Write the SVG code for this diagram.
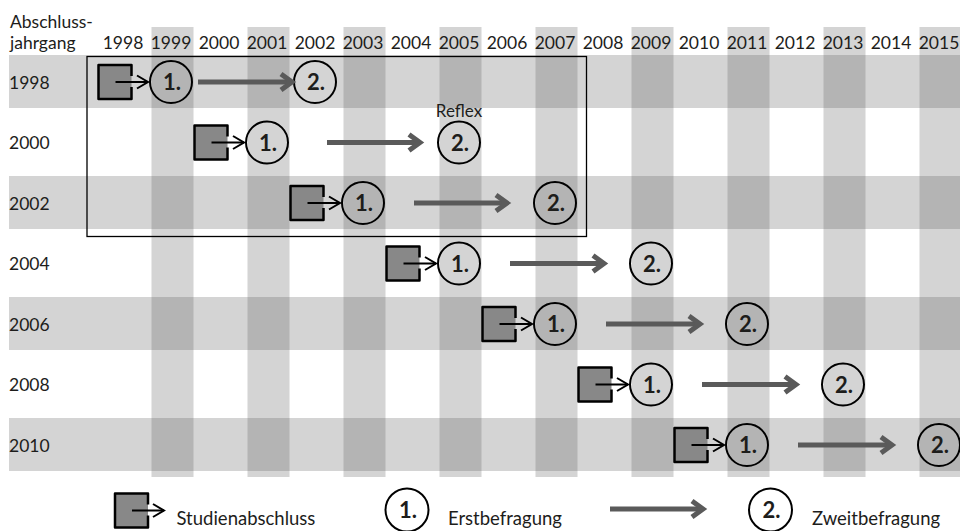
<svg xmlns="http://www.w3.org/2000/svg" xmlns:xlink="http://www.w3.org/1999/xlink" width="960" height="531" viewBox="0 0 960 531">
<style>
  text { font-family: Lato, "Open Sans", "Liberation Sans", sans-serif; fill: #1d1d1b; }
  .lbl { font-size: 17.5px; }
  .leg { font-size: 18.5px; }
  .yr { font-size: 17.5px; text-anchor: middle; }
  .num { font-size: 22px; font-weight: bold; text-anchor: middle; }
  .circ { fill: none; stroke: #000; stroke-width: 2; }
  .small { stroke: #000; stroke-width: 2; fill: none; }
  .big { stroke: #5a5a5a; stroke-width: 5; fill: none; }
  .boxfill { fill: #888888; }
  .boxedge { fill: none; stroke: #000; stroke-width: 2.5; stroke-linejoin: round; }
</style>
<defs>
  <g id="stripes">
    <rect x="151.5" y="27" width="42" height="450"/>
    <rect x="247.5" y="27" width="42" height="450"/>
    <rect x="343.5" y="27" width="42" height="450"/>
    <rect x="439.5" y="27" width="42" height="450"/>
    <rect x="535.5" y="27" width="42" height="450"/>
    <rect x="631.5" y="27" width="42" height="450"/>
    <rect x="727.5" y="27" width="42" height="450"/>
    <rect x="823.5" y="27" width="42" height="450"/>
    <rect x="919.5" y="27" width="42" height="450"/>
  </g>
  <clipPath id="bandclip">
    <rect x="9" y="55" width="951" height="53"/>
    <rect x="9" y="176" width="951" height="53"/>
    <rect x="9" y="297" width="951" height="53"/>
    <rect x="9" y="418" width="951" height="53"/>
  </clipPath>
  <g id="box">
    <rect class="boxfill" x="0" y="0" width="33" height="34"/>
    <path class="boxedge" d="M33,11 V0 H0 V34 H33 V22"/>
  </g>
  <marker id="hs" markerUnits="userSpaceOnUse" markerWidth="30" markerHeight="30" refX="0" refY="0" orient="auto" overflow="visible">
    <path d="M-11,-6.5 L0,0 L-11,6.5" fill="none" stroke="#000" stroke-width="2"/>
  </marker>
  <marker id="hb" markerUnits="userSpaceOnUse" markerWidth="40" markerHeight="40" refX="0" refY="0" orient="auto" overflow="visible">
    <path d="M-11,-8 L0,0 L-11,8" fill="none" stroke="#5a5a5a" stroke-width="5" stroke-linejoin="miter"/>
  </marker>
</defs>

<g id="background">
  <use xlink:href="#stripes" fill="#d4d4d4"/>
  <g fill="#d4d4d4">
    <rect x="9" y="55" width="951" height="53"/>
    <rect x="9" y="176" width="951" height="53"/>
    <rect x="9" y="297" width="951" height="53"/>
    <rect x="9" y="418" width="951" height="53"/>
  </g>
  <g clip-path="url(#bandclip)">
    <use xlink:href="#stripes" fill="#b4b4b4"/>
  </g>
</g>

<g id="header">
  <text class="lbl" x="10" y="28">Abschluss-</text>
  <text class="lbl" x="10" y="49">jahrgang</text>
  <text class="yr" x="123" y="49">1998</text>
  <text class="yr" x="171" y="49">1999</text>
  <text class="yr" x="219" y="49">2000</text>
  <text class="yr" x="267" y="49">2001</text>
  <text class="yr" x="315" y="49">2002</text>
  <text class="yr" x="363" y="49">2003</text>
  <text class="yr" x="411" y="49">2004</text>
  <text class="yr" x="459" y="49">2005</text>
  <text class="yr" x="507" y="49">2006</text>
  <text class="yr" x="555" y="49">2007</text>
  <text class="yr" x="603" y="49">2008</text>
  <text class="yr" x="651" y="49">2009</text>
  <text class="yr" x="699" y="49">2010</text>
  <text class="yr" x="747" y="49">2011</text>
  <text class="yr" x="795" y="49">2012</text>
  <text class="yr" x="843" y="49">2013</text>
  <text class="yr" x="891" y="49">2014</text>
  <text class="yr" x="939" y="49">2015</text>
</g>

<g id="row-labels">
  <text class="lbl" x="9" y="88.5">1998</text>
  <text class="lbl" x="9" y="149">2000</text>
  <text class="lbl" x="9" y="209.5">2002</text>
  <text class="lbl" x="9" y="270">2004</text>
  <text class="lbl" x="9" y="330.5">2006</text>
  <text class="lbl" x="9" y="391">2008</text>
  <text class="lbl" x="9" y="451.5">2010</text>
</g>

<g id="reflex-frame">
  <rect x="87" y="56.5" width="499.5" height="180" fill="none" stroke="#000" stroke-width="1.3"/>
  <text x="459" y="117" font-size="17" text-anchor="middle">Reflex</text>
</g>

<g id="start-1998"><use xlink:href="#box" x="98.5" y="65"/></g>
<g id="survey1-1998"><circle class="circ" cx="171" cy="82" r="21"/><text class="num" x="172" y="90">1.</text></g>
<g id="survey2-1998"><circle class="circ" cx="315" cy="82" r="21"/><text class="num" x="316" y="90">2.</text></g>

<g id="start-2000"><use xlink:href="#box" x="194.5" y="125.5"/></g>
<g id="survey1-2000"><circle class="circ" cx="267" cy="142.5" r="21"/><text class="num" x="268" y="150.5">1.</text></g>
<g id="survey2-2000"><circle class="circ" cx="459" cy="142.5" r="21"/><text class="num" x="460" y="150.5">2.</text></g>

<g id="start-2002"><use xlink:href="#box" x="290.5" y="186"/></g>
<g id="survey1-2002"><circle class="circ" cx="363" cy="203" r="21"/><text class="num" x="364" y="211">1.</text></g>
<g id="survey2-2002"><circle class="circ" cx="555" cy="203" r="21"/><text class="num" x="556" y="211">2.</text></g>

<g id="start-2004"><use xlink:href="#box" x="386.5" y="246.5"/></g>
<g id="survey1-2004"><circle class="circ" cx="459" cy="263.5" r="21"/><text class="num" x="460" y="271.5">1.</text></g>
<g id="survey2-2004"><circle class="circ" cx="651" cy="263.5" r="21"/><text class="num" x="652" y="271.5">2.</text></g>

<g id="start-2006"><use xlink:href="#box" x="482.5" y="307"/></g>
<g id="survey1-2006"><circle class="circ" cx="555" cy="324" r="21"/><text class="num" x="556" y="332">1.</text></g>
<g id="survey2-2006"><circle class="circ" cx="747" cy="324" r="21"/><text class="num" x="748" y="332">2.</text></g>

<g id="start-2008"><use xlink:href="#box" x="578.5" y="367.5"/></g>
<g id="survey1-2008"><circle class="circ" cx="651" cy="384.5" r="21"/><text class="num" x="652" y="392.5">1.</text></g>
<g id="survey2-2008"><circle class="circ" cx="843" cy="384.5" r="21"/><text class="num" x="844" y="392.5">2.</text></g>

<g id="start-2010"><use xlink:href="#box" x="674.5" y="428"/></g>
<g id="survey1-2010"><circle class="circ" cx="747" cy="445" r="21"/><text class="num" x="748" y="453">1.</text></g>
<g id="survey2-2010"><circle class="circ" cx="939" cy="445" r="21"/><text class="num" x="940" y="453">2.</text></g>

<g id="connectors">
  <line class="small" x1="115.5" y1="82" x2="148" y2="82" marker-end="url(#hs)"/>
  <line class="big" x1="198" y1="82" x2="292" y2="82" marker-end="url(#hb)"/>
  <line class="small" x1="211.5" y1="142.5" x2="244" y2="142.5" marker-end="url(#hs)"/>
  <line class="big" x1="327" y1="142.5" x2="420" y2="142.5" marker-end="url(#hb)"/>
  <line class="small" x1="307.5" y1="203" x2="340" y2="203" marker-end="url(#hs)"/>
  <line class="big" x1="414" y1="203" x2="507" y2="203" marker-end="url(#hb)"/>
  <line class="small" x1="403.5" y1="263.5" x2="436" y2="263.5" marker-end="url(#hs)"/>
  <line class="big" x1="510" y1="263.5" x2="604" y2="263.5" marker-end="url(#hb)"/>
  <line class="small" x1="499.5" y1="324" x2="532" y2="324" marker-end="url(#hs)"/>
  <line class="big" x1="606" y1="324" x2="700" y2="324" marker-end="url(#hb)"/>
  <line class="small" x1="595.5" y1="384.5" x2="628" y2="384.5" marker-end="url(#hs)"/>
  <line class="big" x1="702" y1="384.5" x2="796" y2="384.5" marker-end="url(#hb)"/>
  <line class="small" x1="691.5" y1="445" x2="724" y2="445" marker-end="url(#hs)"/>
  <line class="big" x1="798" y1="445" x2="892" y2="445" marker-end="url(#hb)"/>
</g>

<g id="legend">
  <g id="legend-start">
    <use xlink:href="#box" x="115" y="493.5"/>
    <line class="small" x1="132" y1="510.5" x2="164" y2="510.5" marker-end="url(#hs)"/>
    <text class="leg" x="176.5" y="525">Studienabschluss</text>
  </g>
  <g id="legend-survey1">
    <circle class="circ" cx="407" cy="510" r="21.5"/>
    <text class="num" x="408" y="518">1.</text>
    <text class="leg" x="448" y="525">Erstbefragung</text>
  </g>
  <g id="legend-arrow">
    <line class="big" x1="610" y1="509" x2="703" y2="509" marker-end="url(#hb)"/>
  </g>
  <g id="legend-survey2">
    <circle class="circ" cx="770.5" cy="510" r="21.5"/>
    <text class="num" x="771.5" y="518">2.</text>
    <text class="leg" x="812" y="525">Zweitbefragung</text>
  </g>
</g>
</svg>
